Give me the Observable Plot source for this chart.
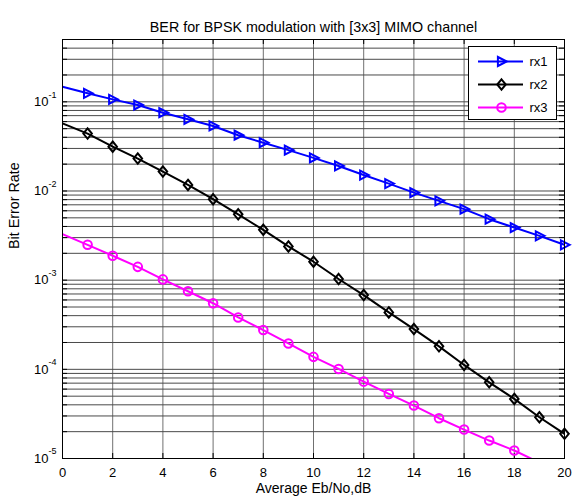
<!DOCTYPE html>
<html><head><meta charset="utf-8">
<script src="https://cdn.jsdelivr.net/npm/d3@7"></script>
<script src="https://cdn.jsdelivr.net/npm/@observablehq/plot@0.6"></script>
<style>
body{margin:0;background:#fff;}
#wrap{position:relative;width:572px;height:500px;}
#legend{position:absolute;left:468px;top:46px;border:1px solid #000;background:#fff;line-height:0;}
svg{font-family:"Liberation Sans",Arial,sans-serif;}
</style></head><body><div id="wrap"><div id="legend"></div></div>
<script>
// ---- data ----
const snr = [0,1,2,3,4,5,6,7,8,9,10,11,12,13,14,15,16,17,18,19,20];
const rx1 = [0.1475,0.1245,0.1066,0.0921,0.0755,0.0637,0.0536,0.0422,0.0348,0.0287,0.0235,0.0191,0.0151,0.0121,0.0096,0.00775,0.00626,0.00483,0.00389,0.00314,0.00249];
const rx2 = [0.0574,0.0440,0.0314,0.0231,0.0165,0.0117,0.00809,0.00547,0.00367,0.00239,0.00161,0.00103,0.00068,0.000435,0.000283,0.000181,0.000112,7.15e-5,4.66e-5,2.90e-5,1.89e-5];
const rx3 = [0.00328,0.00249,0.00188,0.00141,0.00102,0.000751,0.000551,0.000382,0.000276,0.000195,0.000138,0.000101,7.28e-5,5.30e-5,3.92e-5,2.83e-5,2.11e-5,1.59e-5,1.23e-5,9.0e-6,6.8e-6];
const seriesNames = ["rx1","rx2","rx3"];
const seriesColors = ["#0000ff","#000000","#ff00ff"];
const xTicks = [0,2,4,6,8,10,12,14,16,18,20];
const yDecades = [1e-5,1e-4,1e-3,1e-2,1e-1];
const yExponents = ["-5","-4","-3","-2","-1"];
const titleText = "BER for BPSK modulation with [3x3] MIMO channel";
const xLabel = "Average Eb/No,dB";
const yLabel = "Bit Error Rate";
const yMin = 1e-5, yMax = 0.5;

// ---- build ----
const seriesValues = [rx1, rx2, rx3];
const rows = [];
seriesNames.forEach((s, k) => snr.forEach((x, i) => rows.push({series: s, snr: x, ber: seriesValues[k][i]})));
const markerRows = rows.filter(d => d.snr > 0 && d.ber >= yMin);

const yGrid = [];
yDecades.forEach(d => { for (let k = 1; k <= 9; k++) { const v = k * d; if (v <= yMax * 1.0001) yGrid.push(v); } });

const triRight = {draw(ctx, size){ const s = Math.sqrt(size / Math.PI); ctx.moveTo(1.15*s, 0); ctx.lineTo(-0.8*s, -1.0*s); ctx.lineTo(-0.8*s, 1.0*s); ctx.closePath(); }};
const diamond = {draw(ctx, size){ const s = Math.sqrt(size / Math.PI); ctx.moveTo(0, -1.15*s); ctx.lineTo(0.95*s, 0); ctx.lineTo(0, 1.15*s); ctx.lineTo(-0.95*s, 0); ctx.closePath(); }};
const circle = {draw(ctx, size){ const s = Math.sqrt(size / Math.PI) * 0.95; ctx.moveTo(s, 0); ctx.arc(0, 0, s, 0, 2*Math.PI); }};
const symbols = [triRight, diamond, circle];

const font = '"Liberation Sans", Arial, sans-serif';
const tickF = Math.pow(10, 5 / 89.3);

const marks = [
  Plot.ruleX(xTicks, {stroke: "#707070", strokeWidth: 1}),
  Plot.ruleY(yGrid, {stroke: "#4a4a4a", strokeWidth: 1}),
  Plot.ruleY(yGrid, {x1: 0, x2: 0.2, stroke: "#000"}),
  Plot.ruleY(yGrid, {x1: 19.8, x2: 20, stroke: "#000"}),
  Plot.ruleX(xTicks, {y1: yMin, y2: yMin * tickF, stroke: "#000"}),
  Plot.ruleX(xTicks, {y1: yMax, y2: yMax / tickF, stroke: "#000"}),
  Plot.line(rows, {x: "snr", y: "ber", z: "series", stroke: "series", strokeWidth: 2, clip: true})
];
seriesNames.forEach((s, k) => {
  marks.push(Plot.dot(markerRows.filter(d => d.series === s), {x: "snr", y: "ber", symbol: symbols[k], r: 4.5, stroke: seriesColors[k], strokeWidth: 2, fill: "none"}));
});
marks.push(
  Plot.frame({stroke: "#000"}),
  Plot.axisX({ticks: xTicks, tickSize: 0, tickPadding: 9, label: null, fontSize: 13}),
  Plot.text(yDecades, {y: d => d, frameAnchor: "left", text: () => "10", textAnchor: "end", dx: -14, fontSize: 13}),
  Plot.text(yDecades, {y: d => d, frameAnchor: "left", text: (d, i) => yExponents[i], textAnchor: "start", dx: -14, dy: -7, fontSize: 9}),
  Plot.text([titleText], {text: d => d, frameAnchor: "top", dy: -18, fontSize: 14.3}),
  Plot.text([xLabel], {text: d => d, frameAnchor: "bottom", dy: 34, fontSize: 14}),
  Plot.text([yLabel], {text: d => d, frameAnchor: "left", dx: -48, rotate: -90, fontSize: 14.3})
);

const chart = Plot.plot({
  width: 572, height: 500,
  marginLeft: 62, marginRight: 8, marginTop: 39, marginBottom: 42,
  style: {fontFamily: font, fontSize: "13px", background: "white", color: "black"},
  x: {domain: [0, 20], axis: null},
  y: {type: "log", domain: [yMin, yMax], axis: null},
  color: {domain: seriesNames, range: seriesColors},
  marks
});
document.getElementById("wrap").prepend(chart);

// ---- legend ----
const legMarks = [
  Plot.ruleY(seriesNames, {y: d => d, stroke: (d, i) => seriesColors[i], strokeWidth: 2, insetLeft: 9, insetRight: 33})
];
seriesNames.forEach((s, k) => {
  legMarks.push(Plot.dot([s], {y: d => d, frameAnchor: "left", dx: 32, symbol: symbols[k], r: 4.5, stroke: seriesColors[k], strokeWidth: 2, fill: "none"}));
});
legMarks.push(Plot.text(seriesNames, {y: d => d, text: d => d, frameAnchor: "left", dx: 60, textAnchor: "start", fontSize: 13}));
const legend = Plot.plot({
  width: 87, height: 72,
  marginLeft: 0, marginRight: 0, marginTop: 13, marginBottom: 12,
  style: {fontFamily: font, fontSize: "13px", background: "white", color: "black", overflow: "visible"},
  x: {axis: null},
  y: {type: "point", domain: seriesNames, axis: null, padding: 0},
  marks: legMarks
});
document.getElementById("legend").appendChild(legend);
</script></body></html>
